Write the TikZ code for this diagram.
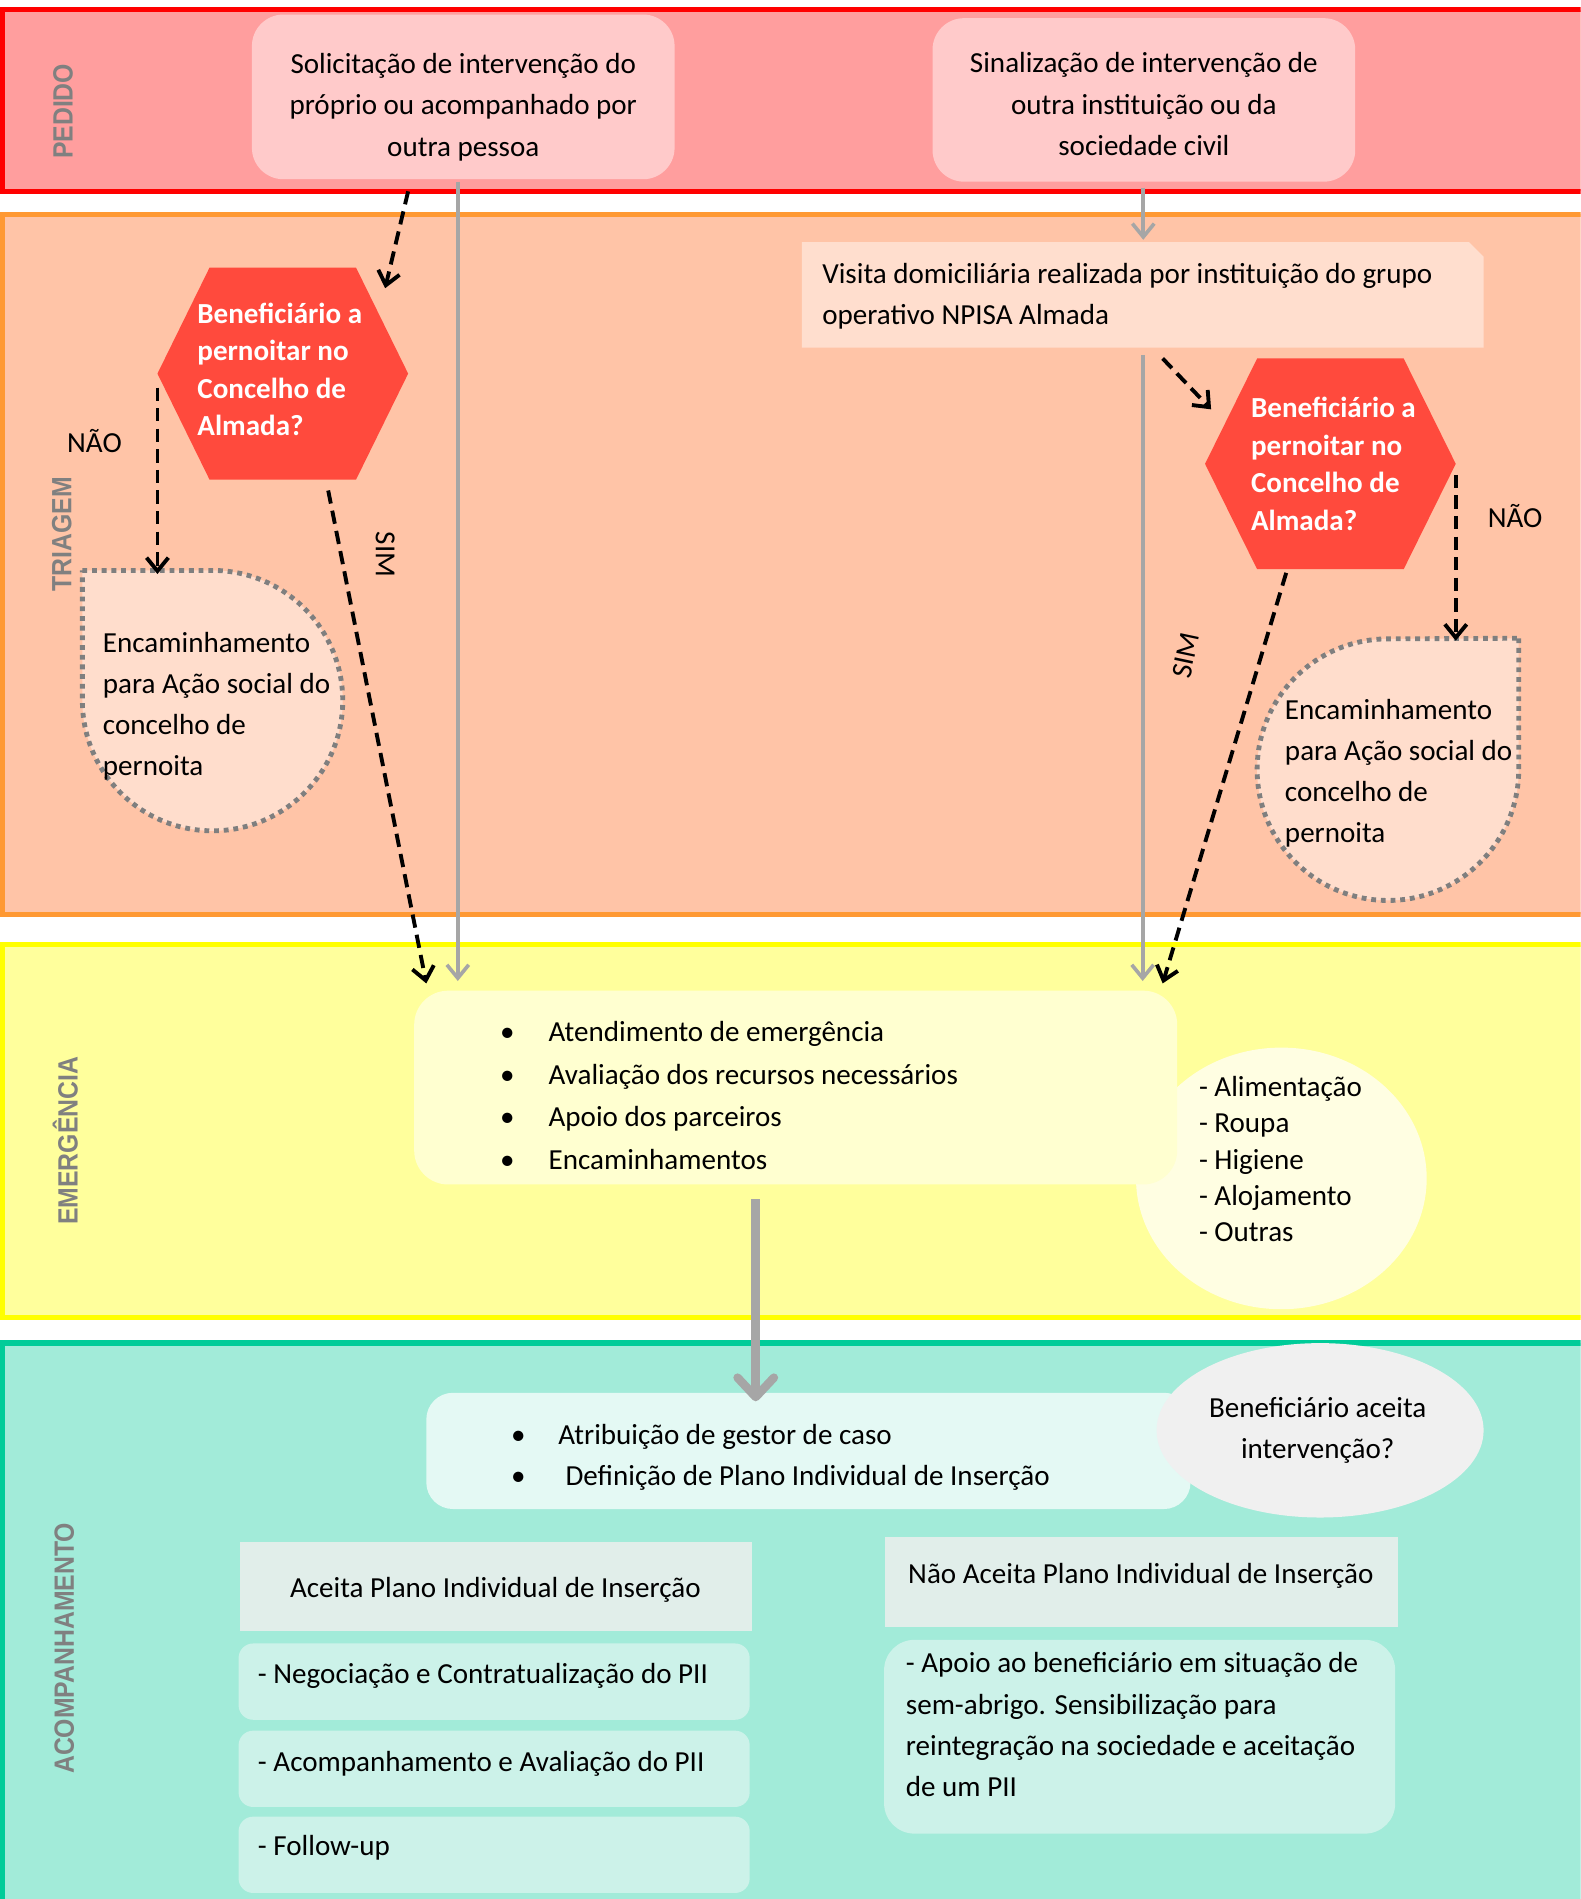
\documentclass[tikz,border=0pt]{standalone}
\usepackage{fontspec}
\setmainfont{Carlito}
\newfontfamily\lanefont{Liberation Sans}
\usetikzlibrary{arrows.meta,shapes.geometric}
\definecolor{pedF}{HTML}{FF9E9E}
\definecolor{pedB}{HTML}{FF0000}
\definecolor{boxP}{HTML}{FFCACA}
\definecolor{triF}{HTML}{FFC4A7}
\definecolor{triB}{HTML}{FF9933}
\definecolor{visF}{HTML}{FFDECE}
\definecolor{hexF}{HTML}{FF4A3D}
\definecolor{encF}{HTML}{FFDDCC}
\definecolor{dotB}{HTML}{7F7F7F}
\definecolor{emeF}{HTML}{FFFF9C}
\definecolor{emeB}{HTML}{FFFF00}
\definecolor{emBox}{HTML}{FFFFD0}
\definecolor{emEll}{HTML}{FFFEE2}
\definecolor{acoF}{HTML}{A2EBD9}
\definecolor{acoB}{HTML}{00CC99}
\definecolor{acoBox}{HTML}{E4F9F4}
\definecolor{greyEll}{HTML}{F0F0F0}
\definecolor{planBox}{HTML}{E1EEEA}
\definecolor{subBox}{HTML}{CCF2E9}
\definecolor{arrowGrey}{HTML}{A6A6A6}
\definecolor{labelGrey}{HTML}{808080}
\newcommand{\lanetext}[1]{\scalebox{0.89}[1]{#1}}
\begin{document}
\begin{tikzpicture}[x=1pt,y=-1pt,
  every node/.style={font=\fontsize{24}{34}\selectfont, inner sep=0pt, outer sep=0pt},
  lanebox/.style={line width=4.5pt},
  lanelabel/.style={font=\lanefont\bfseries\fontsize{23}{26}\selectfont, text=labelGrey, rotate=90},
  rbox/.style={rounded corners=#1, inner sep=0pt},
  lefttxt/.style={align=left, anchor=west},
  centtxt/.style={align=center},
  hextxt/.style={align=left, anchor=west, text=white, font=\fontsize{24}{31}\selectfont\bfseries},
  encshape/.style={fill=encF, draw=dotB, line width=4pt, dash pattern=on 4pt off 4pt},
  dasharrow/.style={draw=black, line width=3.2pt, dash pattern=on 11pt off 6pt,
     -{Straight Barb[length=11pt,width=18pt,line width=3.2pt]}},
  greyarrow/.style={draw=arrowGrey, line width=3pt,
     -{Straight Barb[length=11pt,width=18pt,line width=3pt]}},
  thickarrow/.style={draw=arrowGrey, line width=7pt,
     -{Straight Barb[length=16pt,width=30pt,line width=7pt,round]}}
]
\useasboundingbox (0,0) rectangle (1305,1568);
\clip (0,0) rectangle (1305,1568);

% lanes
\draw[lanebox, draw=pedB, fill=pedF] (2,8) rectangle (1315,158);
\draw[lanebox, draw=triB, fill=triF] (2,177) rectangle (1315,755);
\draw[lanebox, draw=emeB, fill=emeF] (2,780) rectangle (1315,1088);
\draw[lanebox, draw=acoB, fill=acoF] (2,1109) rectangle (1315,1590);

\node[lanelabel] (lp) at (52,92) {\lanetext{PEDIDO}};
\node[lanelabel] (lt) at (51,441) {\lanetext{TRIAGEM}};
\node[lanelabel] (le) at (54,942) {\lanetext{EMERGÊNCIA}};
\node[lanelabel] (la) at (53,1361) {\lanetext{ACOMPANHAMENTO}};

% PEDIDO boxes
\node[rbox=26pt, fill=boxP, minimum width=349, minimum height=136] (b1) at (382.5,80) {};
\node[centtxt] (b1t) at (382.5,88.5) {Solicitação de intervenção do\\próprio ou acompanhado por\\outra pessoa};
\node[rbox=26pt, fill=boxP, minimum width=349, minimum height=135] (b2) at (944.5,82.5) {};
\node[centtxt] (b2t) at (944.5,86) {Sinalização de intervenção de\\outra instituição ou da\\sociedade civil};

% TRIAGEM
\node[minimum width=563, minimum height=87] (vis) at (943.5,243.5) {};
\fill[visF] (vis.south west) -- (vis.north west) -- ([xshift=-12pt]vis.north east)
  -- ([yshift=-12pt]vis.north east) -- (vis.south east) -- cycle;
\node[lefttxt] (vist) at (679,244.5) {Visita domiciliária realizada por instituição do grupo\\operativo NPISA Almada};

\node[minimum width=207, minimum height=175] (h1) at (233.5,308.5) {};
\fill[hexF] (h1.west) -- ([xshift=43pt]h1.north west) -- ([xshift=-43pt]h1.north east)
  -- (h1.east) -- ([xshift=-43pt]h1.south east) -- ([xshift=43pt]h1.south west) -- cycle;
\node[hextxt] (h1t) at (163,305) {Beneficiário a\\pernoitar no\\Concelho de\\Almada?};

\node[minimum width=207, minimum height=174] (h2) at (1098.5,383) {};
\fill[hexF] (h2.west) -- ([xshift=43pt]h2.north west) -- ([xshift=-43pt]h2.north east)
  -- (h2.east) -- ([xshift=-43pt]h2.south east) -- ([xshift=43pt]h2.south west) -- cycle;
\node[hextxt] (h2t) at (1033,383) {Beneficiário a\\pernoitar no\\Concelho de\\Almada?};

\node[minimum width=215, minimum height=217] (n1) at (175.5,579.5) {};
\draw[encshape] (n1.north west) -- (n1.north) arc[start angle=-90, end angle=180, radius=107.5] -- cycle;
\node[lefttxt] (n1t) at (85,583) {Encaminhamento\\para Ação social do\\concelho de\\pernoita};

\node[minimum width=216, minimum height=217] (n2) at (1146,635.5) {};
\draw[encshape] (n2.north east) -- (n2.east) arc[start angle=0, end angle=270, radius=108] -- cycle;
\node[lefttxt] (n2t) at (1061,638.5) {Encaminhamento\\para Ação social do\\concelho de\\pernoita};

\node (nao1) at (78,364) {NÃO};
\node (nao2) at (1251,426) {NÃO};
\node[rotate=-90] (sim1) at (318,458) {SIM};
\node[rotate=78] (sim2) at (979,541) {SIM};

% EMERGENCIA
\node[ellipse, fill=emEll, minimum width=240, minimum height=216] (eme) at (1058,973) {};
\node[rbox=28pt, fill=emBox, minimum width=630, minimum height=160] (em) at (657,898) {};
\node[lefttxt, font=\fontsize{24}{35.3}\selectfont] (emt) at (413,904.5)
  {\makebox[40pt][l]{•}Atendimento de emergência\\
   \makebox[40pt][l]{•}Avaliação dos recursos necessários\\
   \makebox[40pt][l]{•}Apoio dos parceiros\\
   \makebox[40pt][l]{•}Encaminhamentos};
\node[lefttxt, font=\fontsize{24}{30}\selectfont] (emet) at (990,957)
  {- Alimentação\\- Roupa\\- Higiene\\- Alojamento\\- Outras};

% ACOMPANHAMENTO
\node[rbox=22pt, fill=acoBox, minimum width=631, minimum height=96] (ac) at (667.5,1198) {};
\node[lefttxt] (act) at (422,1203)
  {\makebox[39pt][l]{•}Atribuição de gestor de caso\\
   \makebox[39pt][l]{•}\hspace{6pt}Definição de Plano Individual de Inserção};
\node[ellipse, fill=greyEll, minimum width=270, minimum height=144] (ge) at (1090,1181) {};
\node[centtxt] (get) at (1088,1181) {Beneficiário aceita\\intervenção?};

\node[fill=planBox, minimum width=423, minimum height=74] (acp) at (409.5,1310) {};
\node (acpt) at (409,1313) {Aceita Plano Individual de Inserção};
\node[fill=planBox, minimum width=423, minimum height=74] (nap) at (942.5,1306) {};
\node (napt) at (942,1301) {Não Aceita Plano Individual de Inserção};

\node[rbox=12pt, fill=subBox, minimum width=422, minimum height=63] (s1) at (408,1388.5) {};
\node[lefttxt] (s1t) at (213,1384) {- Negociação e Contratualização do PII};
\node[rbox=12pt, fill=subBox, minimum width=422, minimum height=63] (s2) at (408,1460.5) {};
\node[lefttxt] (s2t) at (213,1456) {- Acompanhamento e Avaliação do PII};
\node[rbox=12pt, fill=subBox, minimum width=422, minimum height=63] (s3) at (408,1531.5) {};
\node[lefttxt] (s3t) at (213,1526) {- Follow-up};
\node[rbox=25pt, fill=subBox, minimum width=422, minimum height=160] (ap) at (941,1434) {};
\node[lefttxt] (apt) at (748,1424) {- Apoio ao beneficiário em situação de\\sem-abrigo. Sensibilização para\\reintegração na sociedade e aceitação\\de um PII};

% connectors
\draw[dasharrow] ([shift={(-45.5,10)}]b1.south) -- ([shift={(84.5,17)}]h1.north);
\draw[greyarrow] ([shift={(-4.5,2)}]b1.south) -- ([shift={(-4.5,-8)}]b1.south |- em.north);
\draw[dasharrow] ([shift={(37.5,9)}]h1.south) -- ([shift={(10,-6)}]em.north west);
\draw[dasharrow] ([shift={(0,11.5)}]h1.west) -- ([shift={(0,3)}]h1.west |- n1.north);
\draw[greyarrow] ([shift={(-0.5,5)}]b2.south) -- ([shift={(-0.5,-2)}]b2.south |- vis.north);
\draw[greyarrow] ([shift={(0,6)}]vis.south) -- ([shift={(0,-8)}]vis.south |- em.north);
\draw[dasharrow] ([shift={(16.5,9)}]vis.south) -- ([shift={(5,-45)}]h2.west);
\draw[dasharrow] ([shift={(0,9)}]h2.east) -- ([shift={(0,2)}]h2.east |- n2.north);
\draw[dasharrow] ([shift={(-36.5,3)}]h2.south) -- ([shift={(-12,-6)}]em.north east);
\draw[thickarrow] ([shift={(-33,12)}]em.south) -- ([shift={(-33,7)}]em.south |- ac.north);
\end{tikzpicture}
\end{document}
